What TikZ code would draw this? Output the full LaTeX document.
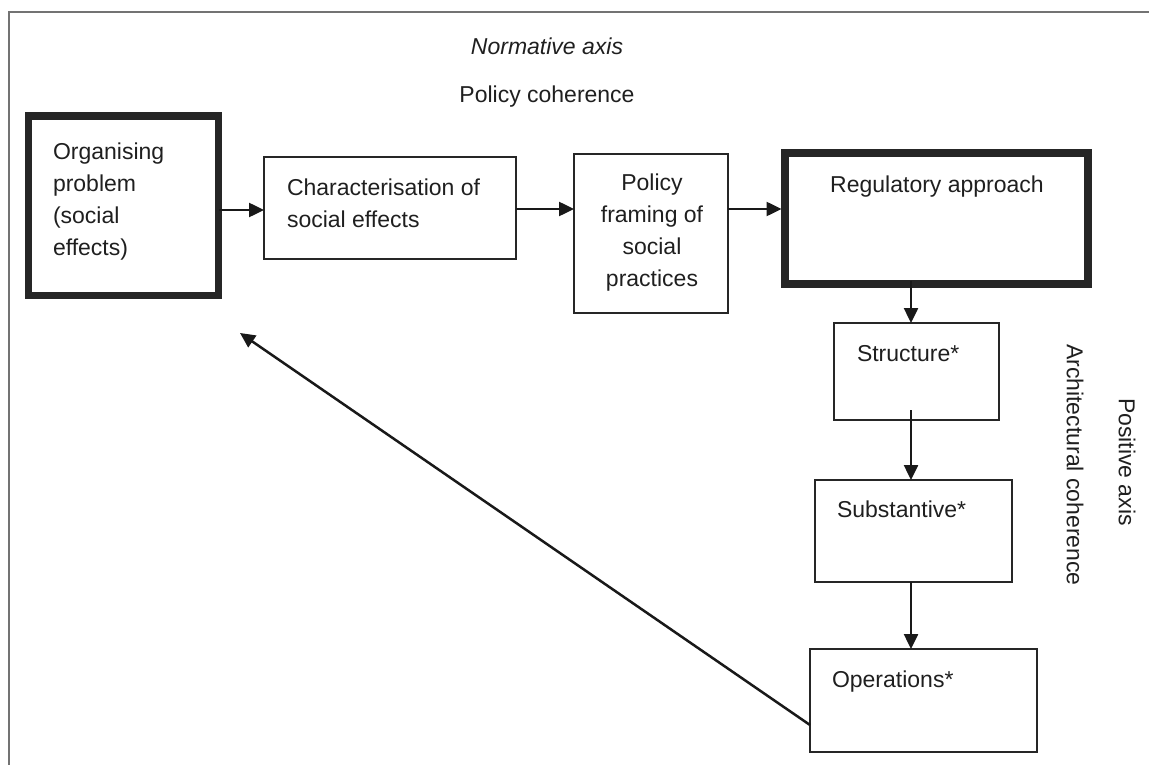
\documentclass[tikz,border=0pt]{standalone}
\usepackage{fontspec}
\setmainfont{Liberation Sans}
\usetikzlibrary{arrows.meta}
\begin{document}
\begin{tikzpicture}[x=1pt,y=-1pt,
  every node/.style={font=\fontsize{23}{32}\selectfont, text=black!88, inner sep=0pt, outer sep=0pt},
  box/.style={draw=black!85, line width=2pt, rectangle, inner sep=0pt, outer sep=0pt},
  thickbox/.style={box, line width=7.5pt},
  lbl/.style={align=left, anchor=base west},
  clbl/.style={align=center, anchor=base},
  arr/.style={line width=2.5pt, draw=black!90, -{Triangle[length=15pt,width=14pt]}},
  frameline/.style={draw=black!55, line width=1.5pt}
]
\useasboundingbox (0,0) rectangle (1149,765);
% frame
\coordinate (fTL) at (9,12);
\coordinate (fTR) at (1149,12);
\coordinate (fBL) at (9,765);
\draw[frameline] (fTR) -- (fTL) -- (fBL);

% boxes
\node[thickbox, minimum width=190pt, minimum height=179.5pt] (b1) at (123.5,205.75) {};
\node[box, minimum width=252pt, minimum height=102pt] (b2) at (390,208) {};
\node[box, minimum width=154pt, minimum height=159pt] (b3) at (651,233.5) {};
\node[thickbox, line width=8pt, minimum width=303.5pt, minimum height=130.5pt] (b4) at (936.25,218.75) {};
\node[box, minimum width=165pt, minimum height=97pt] (st) at (916.5,371.5) {};
\node[box, minimum width=197pt, minimum height=102pt] (su) at (913.5,531) {};
\node[box, minimum width=227pt, minimum height=103pt] (op) at (923.5,700.5) {};

% texts (anchor = baseline of the last line)
\node[lbl] (t1) at (53,255) {Organising\\problem\\(social\\effects)};
\node[lbl] (t2) at (287,227) {Characterisation of\\social effects};
\node[clbl] (t3) at (652,286) {Policy\\framing of\\social\\practices};
\node[clbl] (t4) at (937,193) {Regulatory approach};
\node[lbl] (tst) at (857,361) {Structure*};
\node[lbl] (tsu) at (837,517) {Substantive*};
\node[lbl] (top) at (832,687) {Operations*};
\node[clbl, font=\fontsize{23}{32}\selectfont\itshape] (norm) at (547,55) {Normative axis};
\node[clbl] (polc) at (547,103) {Policy coherence};
\node[rotate=-90] (arch) at (1075,465) {Architectural coherence};
\node[rotate=-90] (posa) at (1127,462) {Positive axis};

% connectors
\draw[arr] (b1.east |- 0,210) -- (b2.west |- 0,210);
\draw[arr] (b2.east |- 0,209) -- (b3.west |- 0,209);
\draw[arr] (b3.east |- 0,209) -- ([xshift=-3pt]b4.west |- 0,209);
\draw[arr] ([yshift=3.5pt]b4.south -| 911,0) -- (st.north -| 911,0);
\draw[arr] ([yshift=10pt]st.south -| 911,0) -- (su.north -| 911,0);
\draw[arr] (su.south -| 911,0) -- (op.north -| 911,0);
\coordinate (back) at (240,333);
\draw[arr] (op.west |- 0,725) -- (back);
\end{tikzpicture}
\end{document}
